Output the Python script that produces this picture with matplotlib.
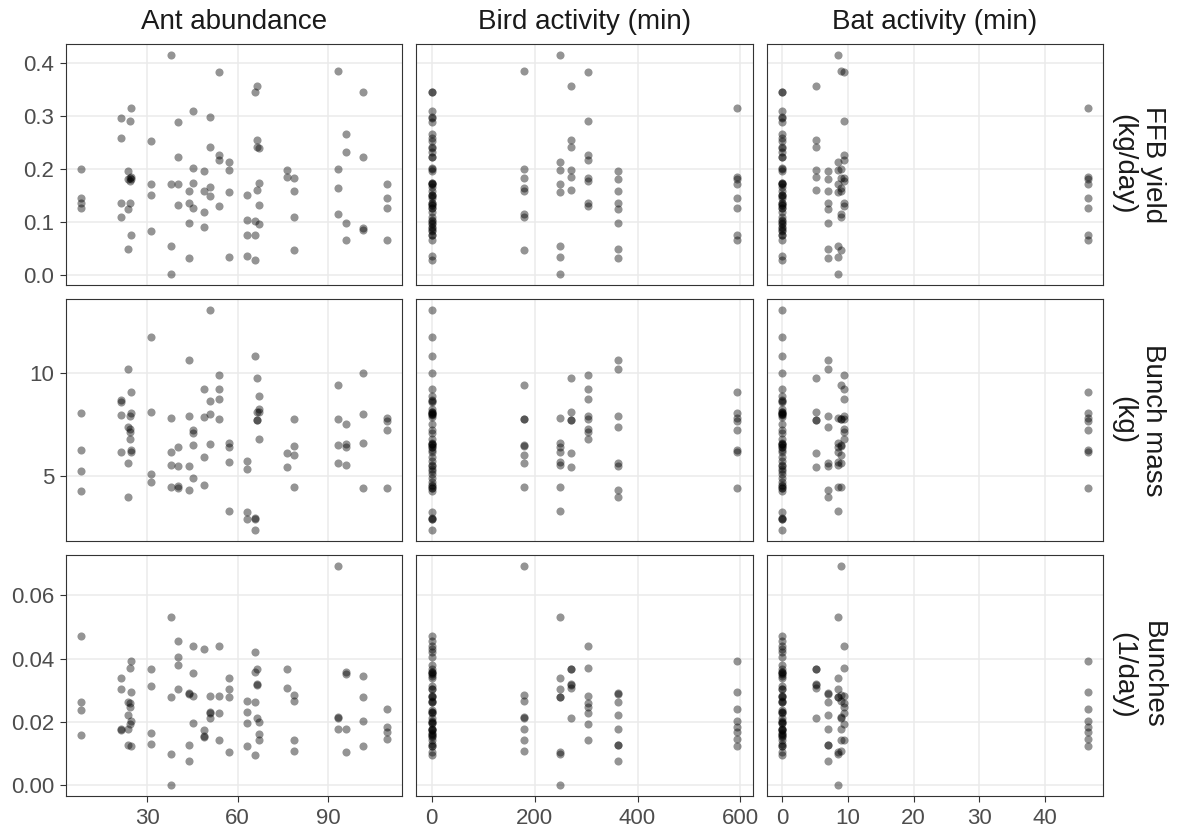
"""
Yield components vs. ant abundance, bird activity and bat activity.
Facet grid of scatter plots, one row per response, one column per predictor.
"""

import matplotlib
matplotlib.use("Agg")
import matplotlib.pyplot as plt
import pandas as pd
from matplotlib.ticker import FixedLocator, FormatStrFormatter


# ── DATA (one entry per site) ─────────────────────────────────────────────────
ant_abundance = [8.2, 21.5, 23.6, 24.2, 24.8, 31.4, 37.9, 40.4, 43.8, 45.3,
                 49.0, 51.0, 53.7, 57.0, 63.0, 65.6, 66.3, 67.0, 76.4, 78.6,
                 93.3, 95.8, 101.4, 109.5]
bird_activity = [0, 0, 362, 303, 594, 0, 249, 0, 362, 0,
                 0, 0, 303, 249, 0, 0, 270, 0, 270, 180,
                 180, 0, 0, 594]
bat_activity = [0, 0, 7.0, 9.4, 46.5, 0, 8.55, 0, 7.0, 0,
                0, 0, 9.4, 8.55, 0, 0, 5.2, 0, 5.2, 9.0,
                9.0, 0, 0, 46.5]

ffb_yield = [
    [0.201, 0.146, 0.136, 0.127], [0.297, 0.258, 0.136, 0.109],
    [0.196, 0.181, 0.124, 0.049], [0.291, 0.184, 0.178, 0.136],
    [0.316, 0.185, 0.182, 0.075], [0.253, 0.171, 0.151, 0.083],
    [0.416, 0.172, 0.054, 0.001], [0.290, 0.222, 0.172, 0.133],
    [0.158, 0.135, 0.099, 0.032], [0.310, 0.203, 0.173, 0.126],
    [0.196, 0.158, 0.119, 0.090], [0.299, 0.242, 0.167, 0.149],
    [0.383, 0.227, 0.218, 0.130], [0.213, 0.199, 0.157, 0.033],
    [0.151, 0.104, 0.075, 0.035], [0.345, 0.102, 0.075, 0.028],
    [0.357, 0.255, 0.241, 0.161], [0.240, 0.173, 0.132, 0.097],
    [0.198, 0.186], [0.184, 0.159, 0.110, 0.047],
    [0.386, 0.201, 0.165, 0.116], [0.266, 0.232, 0.098, 0.065],
    [0.345, 0.222, 0.088, 0.085], [0.172, 0.145, 0.127, 0.065],
]
bunch_mass = [
    [8.05, 6.23, 5.23, 4.24], [8.67, 8.57, 7.95, 6.14],
    [10.21, 7.39, 5.63, 3.94], [7.92, 7.26, 7.14, 6.79],
    [9.09, 8.04, 6.23, 6.17], [11.74, 8.08, 5.06, 4.68],
    [7.82, 6.17, 5.52, 4.46], [6.38, 5.47, 4.51, 4.41],
    [10.63, 7.92, 5.47, 4.29], [7.22, 7.09, 6.49, 4.90],
    [9.22, 7.87, 5.89, 4.53], [13.05, 8.64, 7.99, 6.53],
    [9.92, 9.20, 8.72, 7.74], [6.61, 6.41, 5.65, 3.30],
    [5.71, 5.31, 3.23, 2.89], [10.84, 2.95, 2.90, 2.37],
    [9.77, 8.12, 7.69, 7.69], [8.86, 8.23, 8.12, 6.79],
    [6.12, 5.40], [7.76, 6.44, 6.00, 4.45],
    [9.42, 7.74, 6.49, 5.60], [7.53, 6.53, 6.41, 5.52],
    [9.98, 8.02, 6.57, 4.38], [7.79, 7.66, 7.22, 4.41],
]
bunches = [
    [0.0472, 0.0262, 0.0236, 0.0159], [0.0340, 0.0303, 0.0177, 0.0175],
    [0.0263, 0.0222, 0.0178, 0.0127], [0.0371, 0.0259, 0.0248, 0.0194],
    [0.0393, 0.0294, 0.0201, 0.0122], [0.0368, 0.0313, 0.0166, 0.0129],
    [0.0532, 0.0279, 0.0097, 0.0000], [0.0456, 0.0404, 0.0379, 0.0305],
    [0.0291, 0.0287, 0.0127, 0.0077], [0.0440, 0.0353, 0.0283, 0.0196],
    [0.0429, 0.0175, 0.0156, 0.0152], [0.0283, 0.0231, 0.0229, 0.0212],
    [0.0440, 0.0283, 0.0229, 0.0142], [0.0338, 0.0304, 0.0279, 0.0103],
    [0.0267, 0.0231, 0.0195, 0.0124], [0.0420, 0.0356, 0.0262, 0.0094],
    [0.0368, 0.0319, 0.0317, 0.0212], [0.0198, 0.0161, 0.0142],
    [0.0367, 0.0306], [0.0284, 0.0267, 0.0142, 0.0108],
    [0.0694, 0.0214, 0.0212, 0.0178], [0.0356, 0.0352, 0.0178, 0.0103],
    [0.0345, 0.0277, 0.0201, 0.0122], [0.0240, 0.0185, 0.0169, 0.0147],
]

predictors = ["Ant abundance", "Bird activity (min)", "Bat activity (min)"]
responses  = ["FFB yield\n(kg/day)", "Bunch mass\n(kg)", "Bunches\n(1/day)"]
x_ticks    = [[30, 60, 90], [0, 200, 400, 600], [0, 10, 20, 30, 40]]
y_ticks    = [[0.0, 0.1, 0.2, 0.3, 0.4], [5, 10], [0.00, 0.02, 0.04, 0.06]]
y_formats  = ["%.1f", "%d", "%.2f"]


# ── LONG TABLE ────────────────────────────────────────────────────────────────
records = []
for resp, per_site in zip(responses, [ffb_yield, bunch_mass, bunches]):
    for i, values in enumerate(per_site):
        for v in values:
            records.append({
                "response": resp,
                predictors[0]: ant_abundance[i],
                predictors[1]: bird_activity[i],
                predictors[2]: bat_activity[i],
                "value": v,
            })
df = pd.DataFrame(records)


def expand(lo, hi, mult=0.05):
    span = hi - lo
    return lo - span * mult, hi + span * mult


# ── PLOT ──────────────────────────────────────────────────────────────────────
plt.rcParams["font.family"] = ["Liberation Sans", "DejaVu Sans"]

fig, axes = plt.subplots(3, 3, figsize=(11.81, 8.39), dpi=100,
                         sharex="col", sharey="row")
fig.subplots_adjust(left=0.0559, right=0.934, top=0.9476, bottom=0.0513,
                    wspace=0.042, hspace=0.058)

for r, resp in enumerate(responses):
    sub = df[df["response"] == resp]
    for c, pred in enumerate(predictors):
        ax = axes[r, c]
        ax.scatter(sub[pred], sub["value"], s=34, color="black",
                   alpha=0.42, linewidths=0, zorder=3)

        ax.grid(True, color="#EBEBEB", linewidth=1.1)
        ax.set_axisbelow(True)
        for sp in ax.spines.values():
            sp.set_color("#333333")
            sp.set_linewidth(0.8)

        ax.tick_params(colors="#333333", labelcolor="#4D4D4D", labelsize=16,
                       length=4.5, width=0.8, pad=4)
        if c > 0:
            ax.tick_params(left=False, labelleft=False)
        if r < 2:
            ax.tick_params(bottom=False, labelbottom=False)

        if r == 0:
            ax.set_title(pred, fontsize=20, color="#1A1A1A", pad=10.5)
        if c == 2:
            ax.text(1.104, 0.5, resp, transform=ax.transAxes, rotation=270,
                    ha="center", va="center", multialignment="center",
                    fontsize=20, color="#1A1A1A", linespacing=1.15)

    axes[r, 0].set_ylim(*expand(sub["value"].min(), sub["value"].max()))
    axes[r, 0].yaxis.set_major_locator(FixedLocator(y_ticks[r]))
    axes[r, 0].yaxis.set_major_formatter(FormatStrFormatter(y_formats[r]))

for c, pred in enumerate(predictors):
    axes[2, c].set_xlim(*expand(df[pred].min(), df[pred].max()))
    axes[2, c].xaxis.set_major_locator(FixedLocator(x_ticks[c]))

fig.savefig("out.png", dpi=100)
